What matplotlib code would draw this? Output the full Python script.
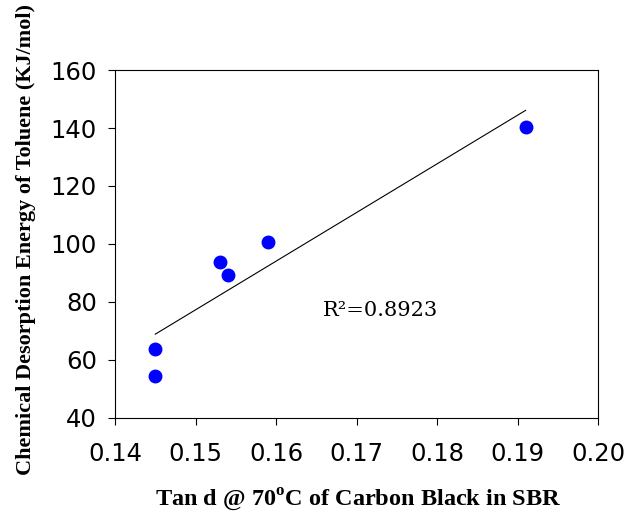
#!/usr/bin/env python3
'''
Desorption energy vs tan d scatter with linear fit.
'''
### MODULES ---
import numpy as np
import matplotlib
matplotlib.use('Agg')
import matplotlib.pyplot as plt
from matplotlib.ticker import FormatStrFormatter


### DATA ---
tanD = [0.145, 0.145, 0.153, 0.154, 0.159, 0.191]
energy = [63.7, 54.5, 93.9, 89.3, 100.7, 140.5]
xTicks = [0.14, 0.15, 0.16, 0.17, 0.18, 0.19, 0.20]
yTicks = [40, 60, 80, 100, 120, 140, 160]
r2Label = 'R\u00b2=0.8923'


### PLOT ---
plt.rcParams['mathtext.fontset'] = 'custom'
plt.rcParams['mathtext.rm'] = 'Liberation Serif'
plt.rcParams['mathtext.bf'] = 'Liberation Serif:bold'

fig = plt.figure(figsize=(6.44, 5.14), dpi=100)
ax = fig.add_axes([0.1786, 0.1868, 0.75, 0.677])

# Data points
ax.plot(tanD, energy, 'o', color='#0000ff', markersize=9, zorder=3)

# Linear fit
p = np.polyfit(tanD, energy, 1)
xFit = np.array([min(tanD), max(tanD)])
ax.plot(xFit, np.polyval(p, xFit), color='k', lw=0.8)

ax.text(0.1730, 76.9, r2Label, fontsize=15, family='DejaVu Serif',
        ha='center', va='center')

# Format plot
ax.set_xlim(0.14, 0.20)
ax.set_ylim(40, 160)
ax.set_xticks(xTicks)
ax.set_yticks(yTicks)
ax.xaxis.set_major_formatter(FormatStrFormatter('%.2f'))
ax.tick_params(direction='out', length=5, width=0.8, labelsize=17.5)
ax.tick_params(axis='y', pad=8)
ax.tick_params(axis='x', pad=12)
for s in ax.spines.values():
    s.set_linewidth(0.8)

ax.set_xlabel(r'Tan d @ 70$^{\mathbf{o}}$C of Carbon Black in SBR',
              family='Liberation Serif', fontweight='bold', fontsize=17.5)
ax.xaxis.set_label_coords(0.504, -0.198)
ax.set_ylabel('Chemical Desorption Energy of Toluene (KJ/mol)',
              family='Liberation Serif', fontweight='bold', fontsize=16)
ax.yaxis.set_label_coords(-0.163, 0.514)

fig.savefig('out.png', dpi=100)
